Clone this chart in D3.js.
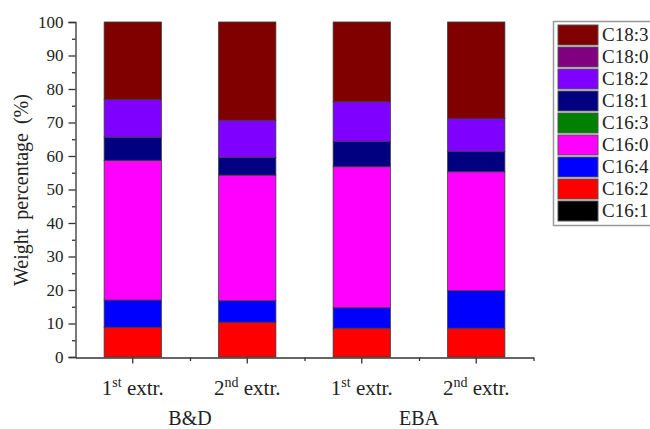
<!DOCTYPE html>
<html>
<head>
<meta charset="utf-8">
<script src="https://cdn.jsdelivr.net/npm/d3@7"></script>
<style>
	body { margin: 0; background: #fff; }
	text { font-family: "Liberation Serif", "Times New Roman", Tinos, serif; fill: #222; }
</style>
</head>
<body>
<svg id="svg_main" width="650" height="429"></svg>
<script>
// samples along the x axis
var samples = ["1st", "2nd", "1st ", "2nd "];
var samplesSup = [["1", "st"], ["2", "nd"], ["1", "st"], ["2", "nd"]];
var groups = ["B&D", "EBA"];

// fatty acids, bottom of the stack first
var acids = ["C16:1", "C16:2", "C16:4", "C16:0", "C16:3", "C18:1", "C18:2", "C18:0", "C18:3"];
var colors = ["#000000", "#ff0000", "#0000ff", "#ff00ff", "#008000", "#000080", "#8000ff", "#800080", "#800000"];

// weight percentages, one value per sample
var c16_1 = [0, 0, 0, 0];
var c16_2 = [8.9, 10.4, 8.6, 8.6];
var c16_4 = [8.1, 6.4, 6.1, 11.2];
var c16_0 = [41.7, 37.5, 42.1, 35.5];
var c16_3 = [0, 0, 0, 0];
var c18_1 = [6.9, 5.2, 7.5, 6.0];
var c18_2 = [11.3, 11.2, 11.9, 9.9];
var c18_0 = [0, 0, 0, 0];
var c18_3 = [23.1, 29.3, 23.8, 28.8];

var yTicks = [0, 10, 20, 30, 40, 50, 60, 70, 80, 90, 100];

var series = [c16_1, c16_2, c16_4, c16_0, c16_3, c18_1, c18_2, c18_0, c18_3];
var table = samples.map((s, i) => {
	let row = { sample: s };
	acids.forEach((a, j) => row[a] = series[j][i]);
	return row;
});

var svg = d3.select("#svg_main");
var axisColor = "#333";

var x = d3.scaleBand().domain(samples).range([75.5, 533.5]).paddingInner(0.5).paddingOuter(0.25);
var y = d3.scaleLinear().domain([0, 100]).range([357, 22]);
var color = d3.scaleOrdinal().domain(acids).range(colors);

var stacked = d3.stack().keys(acids)(table);

// bars
var layers = svg.append("g").attr("class", "bars")
	.selectAll("g")
	.data(stacked)
	.enter().append("g")
	.attr("fill", d => color(d.key));
layers.selectAll("rect")
	.data(d => d.filter(p => p[1] - p[0] > 0))
	.enter().append("rect")
	.attr("x", d => x(d.data.sample))
	.attr("width", x.bandwidth())
	.attr("y", d => y(d[1]))
	.attr("height", d => y(d[0]) - y(d[1]))
	.attr("stroke", "#3a3a3a")
	.attr("stroke-width", 0.8);

// y axis
var yAxis = svg.append("g")
	.attr("transform", "translate(75.5, 0)")
	.call(d3.axisLeft(y).tickValues(yTicks).tickSize(7).tickPadding(5));
svg.append("g")
	.attr("transform", "translate(75.5, 0)")
	.call(d3.axisLeft(y).tickValues(d3.range(5, 100, 10)).tickSize(3.5).tickFormat(""))
	.select(".domain").remove();
yAxis.selectAll("text")
	.attr("font-size", "17px")
	.attr("fill", "#222");

// x axis
var xAxis = svg.append("g")
	.attr("transform", "translate(0, 357.5)")
	.call(d3.axisBottom(x).tickSize(6).tickSizeOuter(0).tickFormat(""));
svg.append("g")
	.attr("transform", "translate(0, 357.5)")
	.call(d3.axisBottom(d3.scaleLinear().domain([0, 4]).range([75.5, 533.5]))
		.tickValues([1, 2, 3, 4]).tickSize(3.5).tickFormat(""))
	.select(".domain").remove();
svg.selectAll(".domain, .tick line")
	.attr("stroke", axisColor)
	.attr("stroke-width", 1.3);

var xLabels = svg.append("g").attr("class", "xlabels");
samples.forEach((s, i) => {
	let t = xLabels.append("text")
		.attr("x", x(s) + x.bandwidth() / 2)
		.attr("y", 395)
		.attr("text-anchor", "middle")
		.attr("font-size", "21px");
	t.append("tspan").text(samplesSup[i][0]);
	t.append("tspan").attr("dy", -8).attr("font-size", "14px").text(samplesSup[i][1]);
	t.append("tspan").attr("dy", 8).text(" extr.");
});

groups.forEach((g, i) => {
	let a = x(samples[i * 2]) + x.bandwidth() / 2,
		b = x(samples[i * 2 + 1]) + x.bandwidth() / 2;
	svg.append("text")
		.attr("x", (a + b) / 2)
		.attr("y", 425)
		.attr("text-anchor", "middle")
		.attr("font-size", "20px")
		.text(g);
});

svg.append("text")
	.attr("transform", "translate(28, 190) rotate(-90)")
	.attr("text-anchor", "middle")
	.attr("font-size", "20px")
	.attr("word-spacing", "4px")
	.text("Weight percentage (%)");

// legend
var legend = svg.append("g").attr("class", "legend");
legend.append("rect")
	.attr("x", 553.5)
	.attr("y", 21.5)
	.attr("width", 110)
	.attr("height", 204)
	.attr("fill", "#fff")
	.attr("stroke", "#999")
	.attr("stroke-width", 1.5);
acids.slice().reverse().forEach((a, i) => {
	legend.append("rect")
		.attr("x", 558)
		.attr("y", 25 + i * 22)
		.attr("width", 40)
		.attr("height", 20)
		.attr("fill", color(a))
		.attr("stroke", "#555")
		.attr("stroke-width", 1);
	legend.append("text")
		.attr("x", 602)
		.attr("y", 41 + i * 22)
		.attr("font-size", "19px")
		.text(a);
});
</script>
</body>
</html>
